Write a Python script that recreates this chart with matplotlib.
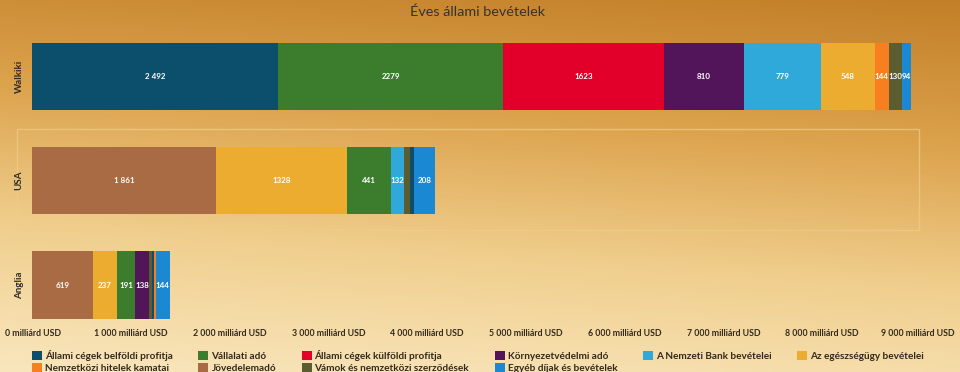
import numpy as np
import matplotlib.pyplot as plt
import matplotlib.transforms as mtrans
from matplotlib.colors import LinearSegmentedColormap
from matplotlib.patches import Rectangle, Patch

plt.rc('font', family='Lato', size=8)

countries = ['Walkiki', 'USA', 'Anglia']
series = ['Állami cégek belföldi profitja', 'Vállalati adó', 'Állami cégek külföldi profitja',
          'Környezetvédelmi adó', 'A Nemzeti Bank bevételei', 'Az egészségügy bevételei',
          'Nemzetközi hitelek kamatai', 'Jövedelemadó', 'Vámok és nemzetközi szerződések',
          'Egyéb díjak és bevételek']
belfoldi     = [2492, 50, 20]
vallalati    = [2279, 441, 191]
kulfoldi     = [1623, 0, 0]
kornyezet    = [810, 0, 138]
nemzeti_bank = [779, 132, 0]
egeszsegugy  = [548, 1328, 237]
hitelek      = [144, 0, 16]
jovedelem    = [0, 1861, 619]
vamok        = [130, 60, 30]
egyeb        = [94, 208, 144]
values = [belfoldi, vallalati, kulfoldi, kornyezet, nemzeti_bank, egeszsegugy,
          hitelek, jovedelem, vamok, egyeb]
colors = ['#0b4f6c', '#3b7d2c', '#e2002b', '#521559', '#2fa9d9', '#ecac30',
          '#f87f1f', '#a86b43', '#5b5d30', '#1b88d4']
xticks = np.arange(0, 10000, 1000)
xticklabels = ['0 milliárd USD'] + ['%d 000 milliárd USD' % (t // 1000) for t in xticks[1:]]

fig = plt.figure(figsize=(9.6, 3.72), dpi=100)

# background gradient
bg = fig.add_axes([0, 0, 1, 1], zorder=-10)
yy, xx = np.mgrid[0:1:200j, 0:1:200j]
grad = np.clip(yy * 0.85 + (1 - xx) * 0.15, 0, 1)
cmap = LinearSegmentedColormap.from_list('bg', ['#c27f28', '#dca24c', '#f0cf8e', '#f9e6bd'])
bg.imshow(grad, cmap=cmap, aspect='auto', extent=[0, 1, 0, 1], origin='upper')
bg.axis('off')

ax = fig.add_axes([32/960, 1 - 322/372, 889/960, 292/372])
ax.set_facecolor('none')

h = 0.645
for i, c in enumerate(countries):
    order = [k for k in range(len(series) - 1) if values[k][i] > 0]
    order.sort(key=lambda k: -values[k][i])
    order.append(len(series) - 1)
    left = 0
    for n, k in enumerate(order):
        v = values[k][i]
        ax.barh(i, v, left=left, height=h, color=colors[k], linewidth=0)
        if v >= 90:
            txt = '{:,}'.format(v).replace(',', ' ') if n == 0 else str(v)
            ax.text(left + v / 2, i, txt, ha='center', va='center', color='white',
                    fontsize=5.8, fontweight='bold')
        left += v

# highlight frame around the hovered USA band
tr = mtrans.blended_transform_factory(ax.transAxes, ax.transData)
ax.add_patch(Rectangle((-0.017, 1 - 0.5), 1.015, 0.97, transform=tr, fill=False,
                       edgecolor='#f0cd88', linewidth=1, alpha=0.7, clip_on=False))

ax.set_xlim(0, 9000)
ax.set_ylim(2 + 37/104.25, -46.5/104.25)
ax.set_yticks(range(len(countries)))
ax.set_yticklabels(countries, rotation=90, va='center', fontweight='bold', fontsize=7, color='#2d2a26')
ax.set_xticks(xticks)
ax.set_xticklabels(xticklabels, fontweight='bold', fontsize=6.3, color='#33291c')
ax.tick_params(length=0, axis='x', pad=5)
ax.tick_params(length=0, axis='y', pad=6)
lbls = ax.get_xticklabels()
lbls[0].set_horizontalalignment('left')
lbls[0].set_transform(lbls[0].get_transform() + mtrans.ScaledTranslation(-27/100, 0, fig.dpi_scale_trans))
lbls[-1].set_horizontalalignment('right')
lbls[-1].set_transform(lbls[-1].get_transform() + mtrans.ScaledTranslation(34/100, 0, fig.dpi_scale_trans))
for s in ax.spines.values():
    s.set_visible(False)

fig.text(0.497, 0.985, 'Éves állami bevételek', ha='center', va='top', fontsize=10.4, color='#333333')

# legend, row-major in 6 columns
col_order = [0, 6, 1, 7, 2, 8, 3, 9, 4, 5]
handles = [Patch(facecolor=colors[k], edgecolor='none', label=series[k]) for k in col_order]
fig.legend(handles=handles, ncol=6, loc='lower left', bbox_to_anchor=(23/960, -0.026),
           frameon=False, prop={'weight': 'bold', 'size': 7.2},
           handlelength=1.0, handleheight=1.0, handletextpad=0.3, columnspacing=2.55,
           labelspacing=0.22, borderpad=0.4, labelcolor='#33291c')

fig.savefig('out.png', dpi=100)
